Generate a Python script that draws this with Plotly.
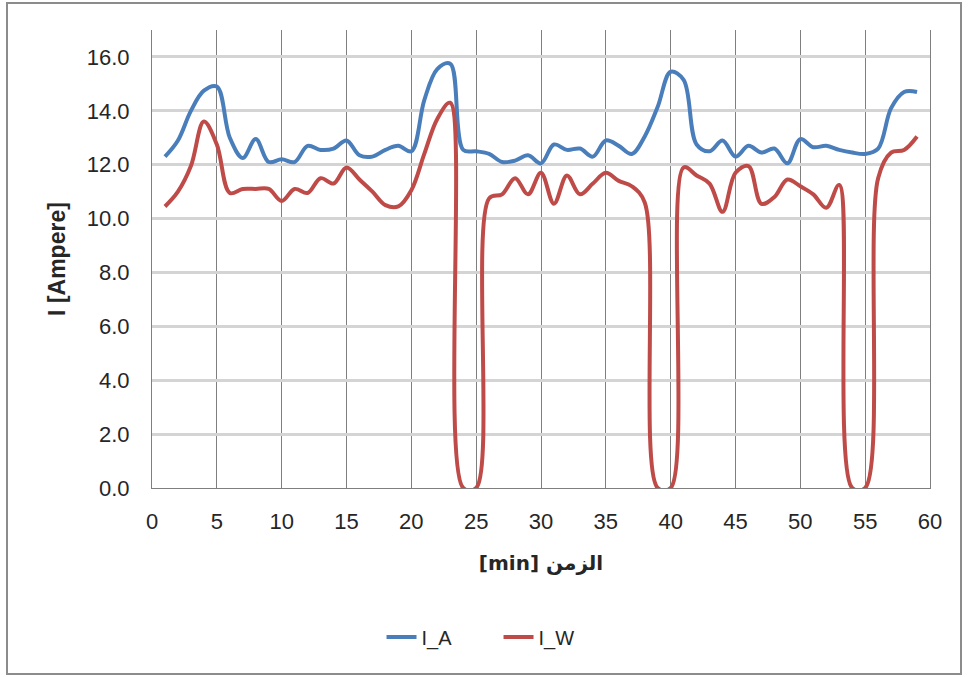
import plotly.graph_objects as go

minutes = list(range(1, 60))

i_a = [12.3, 12.9, 14.0, 14.75, 14.9, 13.0, 12.25, 12.95, 12.1, 12.2,
       12.1, 12.7, 12.55, 12.6, 12.9, 12.35, 12.3, 12.55, 12.7, 12.5,
       14.4, 15.55, 15.75, 12.55, 12.5, 12.4, 12.1, 12.15, 12.35, 12.05,
       12.75, 12.55, 12.6, 12.3, 12.9, 12.7, 12.4, 13.05, 14.15, 15.45,
       15.15, 12.75, 12.5, 12.9, 12.3, 12.7, 12.45, 12.6, 12.05, 12.95,
       12.65, 12.7, 12.55, 12.45, 12.4, 12.6, 14.1, 14.7, 14.7]

i_w = [10.45, 11.0, 11.95, 13.6, 12.75, 10.95, 11.1, 11.1, 11.1, 10.65,
       11.1, 10.95, 11.5, 11.3, 11.9, 11.45, 11.0, 10.5, 10.45, 11.05,
       12.4, 13.7, 14.3, 0.0, 0.0, 10.75, 10.9, 11.5, 10.9, 11.7,
       10.55, 11.6, 10.9, 11.3, 11.7, 11.4, 11.2, 10.6, 0.0, 0.0,
       11.9, 11.6, 11.3, 10.25, 11.7, 11.95, 10.55, 10.8, 11.45, 11.2,
       10.9, 10.4, 11.25, 0.0, 0.0, 11.5, 12.45, 12.55, 13.05]

series_names = ["I_A", "I_W"]
series_colors = ["#4A7EBB", "#BE4B48"]

x_title = "[min] الزمن"
y_title = "I [Ampere]"

FONT = "Liberation Sans, Arial, DejaVu Sans, sans-serif"
TXT = "#262626"

fig = go.Figure()
for name, vals, col in zip(series_names, [i_a, i_w], series_colors):
    fig.add_trace(go.Scatter(
        x=minutes, y=vals, name=name, mode="lines",
        line=dict(color=col, width=4, shape="spline", smoothing=1.0),
    ))

# plot area geometry (pixels)
L, R, T, B = 152, 38, 30, 189
W, H = 968, 677
pw, ph = W - L - R, H - T - B

def px(x):
    return (x - L) / pw

def py(y):
    return (H - B - y) / ph

fig.update_layout(
    width=W, height=H,
    margin=dict(l=L, r=R, t=T, b=B),
    paper_bgcolor="white", plot_bgcolor="white",
    font=dict(family=FONT, color=TXT, size=22),
    showlegend=True,
    legend=dict(
        orientation="h", xref="container", x=0.515, xanchor="center",
        yref="container", y=(H - 637) / H, yanchor="middle",
        font=dict(size=20, family=FONT, color=TXT),
        bgcolor="rgba(0,0,0,0)",
        entrywidth=72, entrywidthmode="pixels",
    ),
    xaxis=dict(
        range=[0, 60], dtick=5, tick0=0,
        showgrid=True, gridcolor="#7f7f7f", gridwidth=1,
        showline=True, linecolor="#7f7f7f", linewidth=1,
        zeroline=False, ticks="", ticklabelstandoff=14,
        tickfont=dict(size=22, family=FONT, color=TXT),
        title=dict(text="<b>" + x_title + "</b>", standoff=22,
                   font=dict(size=20, family="DejaVu Sans, " + FONT, color=TXT)),
    ),
    yaxis=dict(
        range=[0, 17], dtick=2, tick0=0, tickformat=".1f",
        showgrid=True, gridcolor="#d4d4d4", gridwidth=2.5,
        showline=True, linecolor="#7f7f7f", linewidth=1, mirror=True,
        zeroline=False, ticks="", ticklabelstandoff=17,
        tickfont=dict(size=22, family=FONT, color=TXT),
        title=dict(text="<b>" + y_title + "</b>", standoff=14,
                   font=dict(size=23, family=FONT, color=TXT)),
    ),
    shapes=[dict(
        type="rect", xref="paper", yref="paper",
        x0=px(7), x1=px(961), y0=py(3), y1=py(674),
        line=dict(color="#8c8c8c", width=2), fillcolor="rgba(0,0,0,0)",
        layer="below",
    )],
)

fig.write_html("out.html")
